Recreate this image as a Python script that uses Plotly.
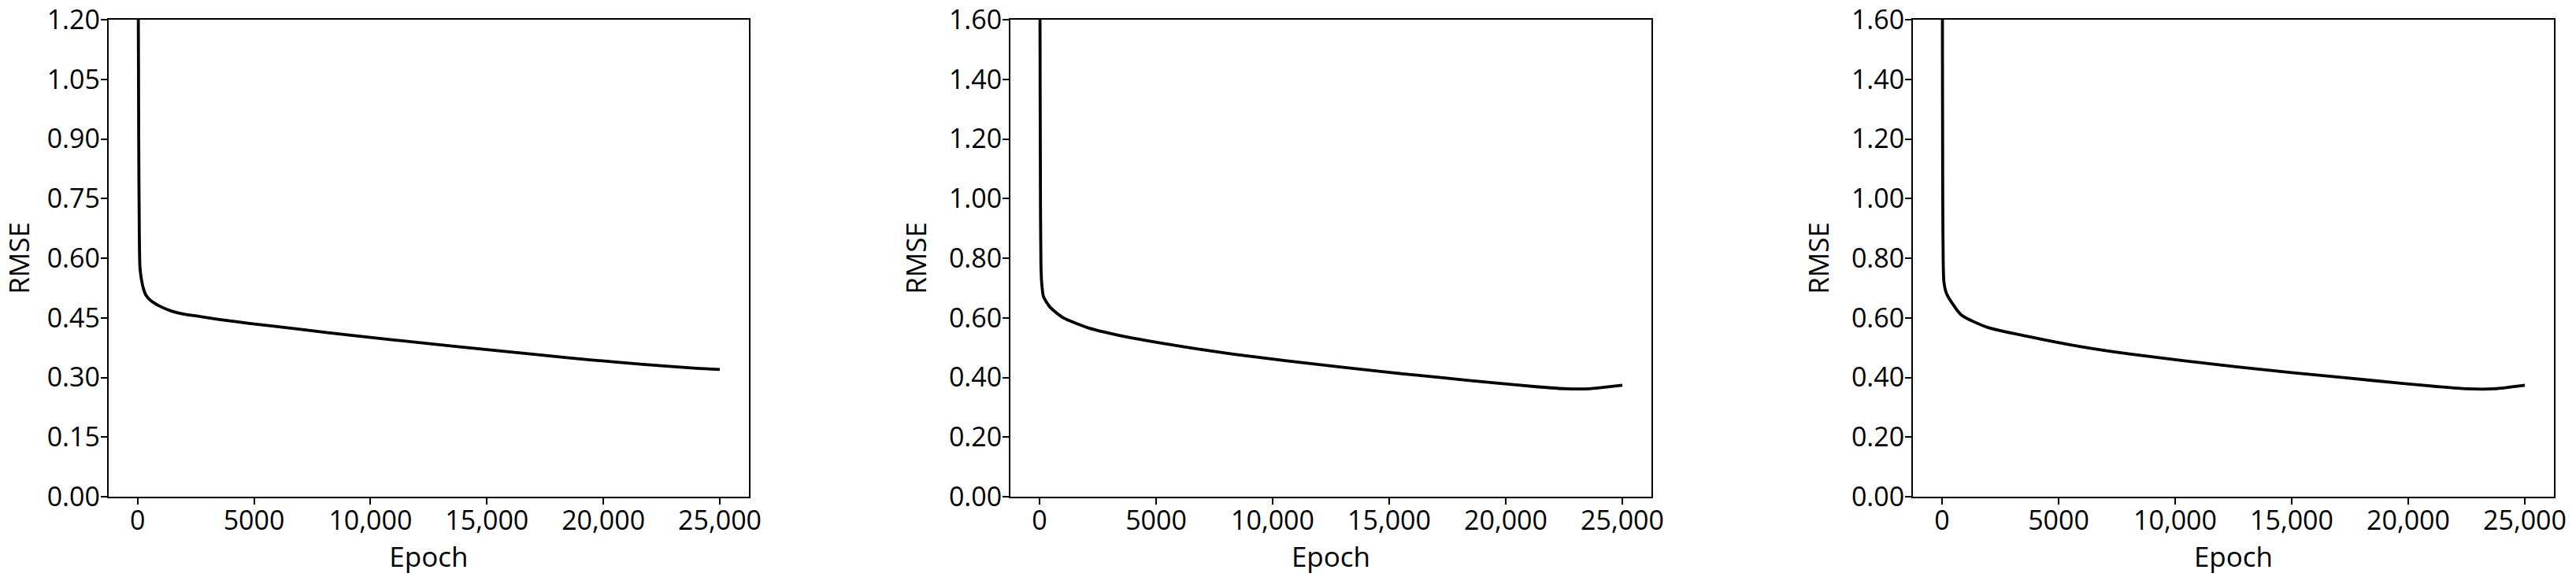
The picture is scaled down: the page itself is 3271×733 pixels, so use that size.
import plotly.graph_objects as go

# ---- data ----
epoch_a = [0, 25, 50, 75, 100, 150, 250, 350, 500, 700, 1000, 1500, 2000, 2600, 3500,
           4800, 7000, 9300, 12700, 15000, 17200, 19500, 21700, 24000, 25000]
rmse_a = [3.0, 1.4, 0.9, 0.66, 0.58, 0.553, 0.524, 0.508, 0.497, 0.488, 0.478, 0.466,
          0.459, 0.454, 0.446, 0.436, 0.421, 0.405, 0.384, 0.370, 0.357, 0.344, 0.333,
          0.323, 0.320]

epoch_b = [0, 20, 40, 60, 90, 170, 450, 1000, 2100, 3800, 6100, 8300, 10600, 12800,
           15100, 17300, 19600, 21300, 22600, 23600, 24100, 25000]
rmse_b = [3.0, 1.6, 1.0, 0.78, 0.72, 0.671, 0.636, 0.601, 0.566, 0.535, 0.504, 0.478,
          0.456, 0.436, 0.416, 0.399, 0.381, 0.369, 0.362, 0.362, 0.366, 0.374]

epoch_c = [0, 15, 30, 50, 80, 200, 820, 1950, 3600, 5900, 8100, 10400, 12600, 15000,
           17300, 19600, 21300, 22500, 23700, 25000]
rmse_c = [3.0, 1.7, 1.0, 0.79, 0.72, 0.680, 0.610, 0.568, 0.539, 0.504, 0.478, 0.456,
          0.436, 0.416, 0.399, 0.381, 0.369, 0.362, 0.362, 0.374]

x_tickvals = [0, 5000, 10000, 15000, 20000, 25000]
x_ticktext = ["0", "5000", "10,000", "15,000", "20,000", "25,000"]
y_max = [1.2, 1.6, 1.6]
y_step = [0.15, 0.2, 0.2]
x_title = "Epoch"
y_title = "RMSE"

series = [(epoch_a, rmse_a), (epoch_b, rmse_b), (epoch_c, rmse_c)]

W, H = 3271, 733
x_domains = [[137.7 / W, 951 / W], [1283 / W, 2097 / W], [2429 / W, 3243 / W]]
y_domain = [(H - 631) / H, (H - 25) / H]

FONT = "Open Sans"
TICK_SIZE = 34
TITLE_SIZE = 35
fig = go.Figure()
layout = dict(
    width=W, height=H,
    margin=dict(l=0, r=0, t=0, b=0, autoexpand=False),
    paper_bgcolor="white", plot_bgcolor="white",
    showlegend=False,
    font=dict(family=FONT, size=TICK_SIZE, color="black"),
)

for i, (xs, ys) in enumerate(series):
    n = "" if i == 0 else str(i + 1)
    fig.add_trace(go.Scatter(x=xs, y=ys, mode="lines",
                             line=dict(color="black", width=3.8, shape="spline", smoothing=0.6),
                             xaxis="x" + n, yaxis="y" + n))
    ticks_y = []
    v = 0.0
    while v <= y_max[i] + 1e-9:
        ticks_y.append(round(v, 4))
        v += y_step[i]
    layout["xaxis" + n] = dict(
        domain=x_domains[i], anchor="y" + n, range=[-1250, 26250],
        tickvals=x_tickvals, ticktext=x_ticktext,
        ticks="outside", ticklen=8, tickwidth=2, tickcolor="black",
        ticklabelstandoff=-9,
        showline=True, linecolor="black", linewidth=2, mirror=True,
        showgrid=False, zeroline=False,
        tickfont=dict(family=FONT, size=TICK_SIZE, color="black"),
        title=dict(text=x_title, font=dict(family=FONT, size=TITLE_SIZE, color="black"), standoff=4),
        automargin=False,
    )
    layout["yaxis" + n] = dict(
        domain=y_domain, anchor="x" + n, range=[0, y_max[i]],
        tickvals=ticks_y, tickformat=".2f",
        ticks="outside", ticklen=8, tickwidth=2, tickcolor="black",
        ticklabelstandoff=-6,
        showline=True, linecolor="black", linewidth=2, mirror=True,
        showgrid=False, zeroline=False,
        tickfont=dict(family=FONT, size=TICK_SIZE, color="black"),
        title=dict(text=y_title, font=dict(family=FONT, size=TITLE_SIZE, color="black"), standoff=18),
        automargin=False,
    )

fig.update_layout(**layout)
fig.write_html("out.html", config={"displayModeBar": False},
               post_script="document.body.style.margin='0';document.body.style.overflow='hidden';")
